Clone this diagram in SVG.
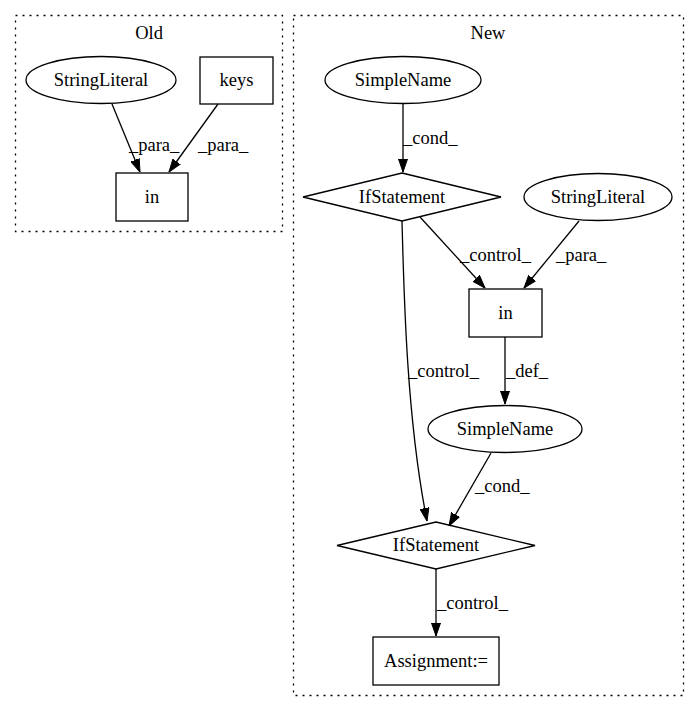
<svg xmlns="http://www.w3.org/2000/svg" width="700" height="712" viewBox="0 0 700 712">
<defs>
<marker id="ah" markerWidth="13" markerHeight="10" refX="13" refY="5" orient="auto" markerUnits="userSpaceOnUse" viewBox="0 0 13 10">
<path d="M0,0.5 L13,5 L0,9.5 Z" fill="#000" stroke="#000"/>
</marker>
<style>
text{font-family:"Liberation Serif","Times New Roman",serif;font-size:18.5px;fill:#000}
.n{fill:none;stroke:#000;stroke-width:1.3}
.c{fill:none;stroke:#000;stroke-width:1.3;stroke-dasharray:2,5}
.e{fill:none;stroke:#000;stroke-width:1.3;marker-end:url(#ah)}
.m{text-anchor:middle}
</style>
</defs>
<rect width="700" height="712" fill="#fff"/>
<g id="cluster_old">
<rect class="c" x="15.5" y="15.5" width="267" height="216"/>
<text class="m" x="149" y="39">Old</text>
</g>
<g id="cluster_new">
<rect class="c" x="293.5" y="15.5" width="390" height="680"/>
<text class="m" x="488" y="39">New</text>
</g>
<g id="old_stringliteral">
<ellipse class="n" cx="101" cy="80" rx="75" ry="23.5"/>
<text class="m" x="101" y="86">StringLiteral</text>
</g>
<g id="old_keys">
<rect class="n" x="200" y="57" width="73" height="47"/>
<text class="m" x="236.5" y="86">keys</text>
</g>
<g id="old_in">
<rect class="n" x="116" y="173" width="72" height="48"/>
<text class="m" x="152" y="203">in</text>
</g>
<g id="new_simplename1">
<ellipse class="n" cx="403" cy="80" rx="78" ry="23.5"/>
<text class="m" x="403" y="86">SimpleName</text>
</g>
<g id="new_if1">
<polygon class="n" points="402,173 501,197 402,221 303,197"/>
<text class="m" x="402" y="203">IfStatement</text>
</g>
<g id="new_stringliteral">
<ellipse class="n" cx="598" cy="197" rx="74" ry="23.5"/>
<text class="m" x="598" y="203">StringLiteral</text>
</g>
<g id="new_in">
<rect class="n" x="469" y="289" width="73" height="48"/>
<text class="m" x="505.5" y="319">in</text>
</g>
<g id="new_simplename2">
<ellipse class="n" cx="505" cy="429" rx="77" ry="23.5"/>
<text class="m" x="505" y="435">SimpleName</text>
</g>
<g id="new_if2">
<polygon class="n" points="436,522 535,545.5 436,569 337,545.5"/>
<text class="m" x="436" y="551">IfStatement</text>
</g>
<g id="new_assignment">
<rect class="n" x="373" y="637" width="126" height="48"/>
<text class="m" x="436" y="667">Assignment:=</text>
</g>
<g id="connectors">
<path class="e" d="M112,104 L140,172"/>
<text x="129" y="151">_para_</text>
<path class="e" d="M218,104 L169,172"/>
<text x="198" y="151">_para_</text>
<path class="e" d="M403,104 L403,172"/>
<text x="403" y="144">_cond_</text>
<path class="e" d="M420,217 L485,288"/>
<text x="460" y="261">_control_</text>
<path class="e" d="M579,221 L524,288"/>
<text x="556" y="261">_para_</text>
<path class="e" d="M402,221 C404,300 407,420 427,521"/>
<text x="408" y="377">_control_</text>
<path class="e" d="M505,337 L505,404"/>
<text x="506" y="377">_def_</text>
<path class="e" d="M491,453 L449,526"/>
<text x="475" y="492">_cond_</text>
<path class="e" d="M436,569 L436,636"/>
<text x="437" y="609">_control_</text>
</g>
</svg>
